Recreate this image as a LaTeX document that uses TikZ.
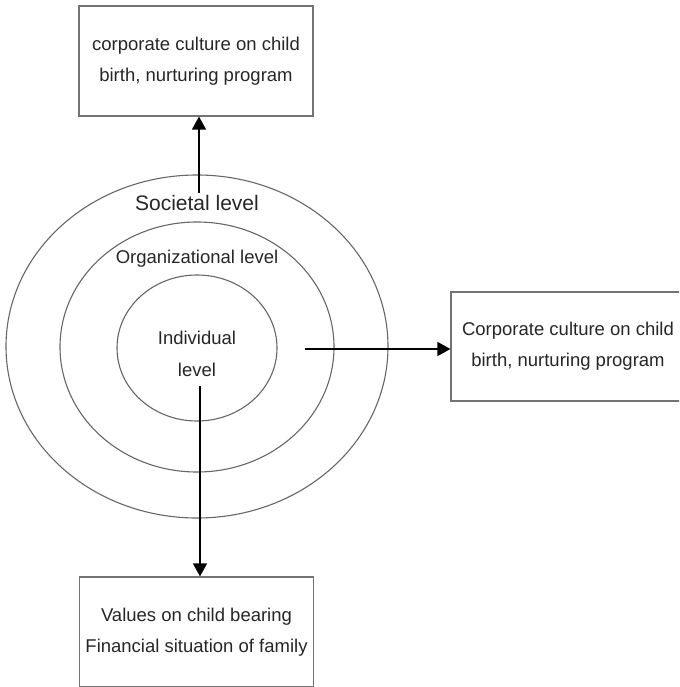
\documentclass[tikz,border=0pt]{standalone}
\usepackage{fontspec}
\setmainfont{Liberation Sans}
\usetikzlibrary{shapes.geometric,arrows.meta}

\tikzset{
  ring/.style={ellipse, draw=black!60, line width=1.1pt, inner sep=0pt},
  levelbox/.style={rectangle, draw=black!55, line width=1.2pt, align=center,
    minimum width=234pt, minimum height=110pt, inner sep=0pt, text=black!85,
    font=\fontsize{18.5}{31}\selectfont},
  levellabel/.style={inner sep=0pt, align=center, text=black!85,
    font=\fontsize{18.5}{32}\selectfont},
  arr/.style={-{Triangle[width=14pt,length=13pt]}, line width=1.5pt, black}
}

\begin{document}
\begin{tikzpicture}[x=1pt,y=-1pt]
\useasboundingbox (0,0) rectangle (679,687);
\clip (0,0) rectangle (679,686);

% Nested levels
\node[ring, minimum width=382pt, minimum height=343pt] (ringS) at (197,346.5) {};
\node[ring, minimum width=274pt, minimum height=250pt] (ringO) at (197,347) {};
\node[ring, minimum width=160pt, minimum height=146pt] (ringI) at (197,348) {};

% Level labels
\node[levellabel, font=\fontsize{21}{25}\selectfont] (soc) at (197,203) {Societal level};
\node[levellabel] (org) at (197,259) {Organizational level};
\node[levellabel] (ind) at (197,354) {Individual\\level};

% Boxes
\node[levelbox] (topbox) at (196,61) {corporate culture on child\\birth, nurturing program};
\node[levelbox, minimum height=109pt] (rightbox) at (568,346.5) {Corporate culture on child\\birth, nurturing program};
\node[levelbox] (bottombox) at (196.5,632) {Values on child bearing\\Financial situation of family};

% Arrows
\coordinate (socTop) at (199,193);
\coordinate (orgRight) at (305,349);
\coordinate (indBottom) at (200,386);
\draw[arr] (socTop) -- (socTop |- topbox.south);
\draw[arr] (orgRight) -- (orgRight -| rightbox.west);
\draw[arr] (indBottom) -- (indBottom |- bottombox.north);

\end{tikzpicture}
\end{document}
